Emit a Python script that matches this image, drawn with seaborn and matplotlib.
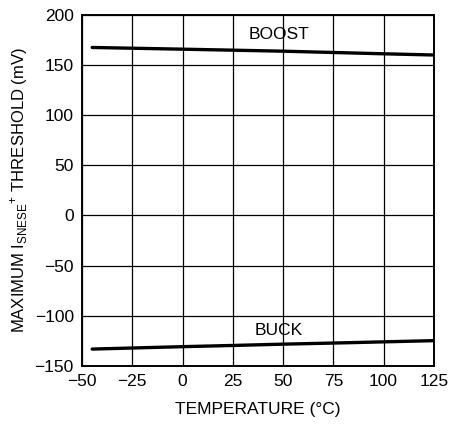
import pandas as pd
import matplotlib.pyplot as plt
import seaborn as sns

# values
temp = [-45, 0, 25, 50, 75, 100, 125]
boost = [167.5, 165.8, 164.8, 163.8, 162.5, 161.2, 160.0]
buck = [-133.2, -130.8, -129.6, -128.3, -127.2, -126.0, -124.8]

xticks = [-50, -25, 0, 25, 50, 75, 100, 125]
yticks = [-150, -100, -50, 0, 50, 100, 150, 200]

data = pd.DataFrame({'Temperature': temp * 2,
                     'Threshold': boost + buck,
                     'Mode': ['BOOST'] * len(temp) + ['BUCK'] * len(temp)})

sns.set_style('white')
plt.rcParams['font.family'] = ['Liberation Sans', 'DejaVu Sans']
plt.rcParams['axes.unicode_minus'] = True
plt.rcParams['text.color'] = 'black'
plt.rcParams['axes.labelcolor'] = 'black'
plt.rcParams['xtick.color'] = 'black'
plt.rcParams['ytick.color'] = 'black'

fig, ax = plt.subplots(figsize=(4.64, 4.25), dpi=100)
fig.subplots_adjust(left=0.177, right=0.935, top=0.965, bottom=0.139)

sns.lineplot(data=data, x='Temperature', y='Threshold', units='Mode', estimator=None,
             color='black', linewidth=2.4, ax=ax, legend=False)

ax.set_xlim(-50, 125)
ax.set_ylim(-150, 200)
ax.set_xticks(xticks)
ax.set_yticks(yticks)
ax.tick_params(labelsize=12.5, length=0, pad=6)
ax.grid(True, color='black', linewidth=0.9)
for s in ax.spines.values():
    s.set_color('black')
    s.set_linewidth(1.4)

ax.text(48, 180, 'BOOST', ha='center', va='center', fontsize=12.5)
ax.text(48, -115, 'BUCK', ha='center', va='center', fontsize=12.5)

ax.set_xlabel('TEMPERATURE (°C)', fontsize=12.5, labelpad=9)
ax.set_ylabel(r'MAXIMUM I$_\mathregular{SNESE}$$^\mathregular{+}$ THRESHOLD (mV)', fontsize=12, labelpad=3)

plt.savefig('out.png')
